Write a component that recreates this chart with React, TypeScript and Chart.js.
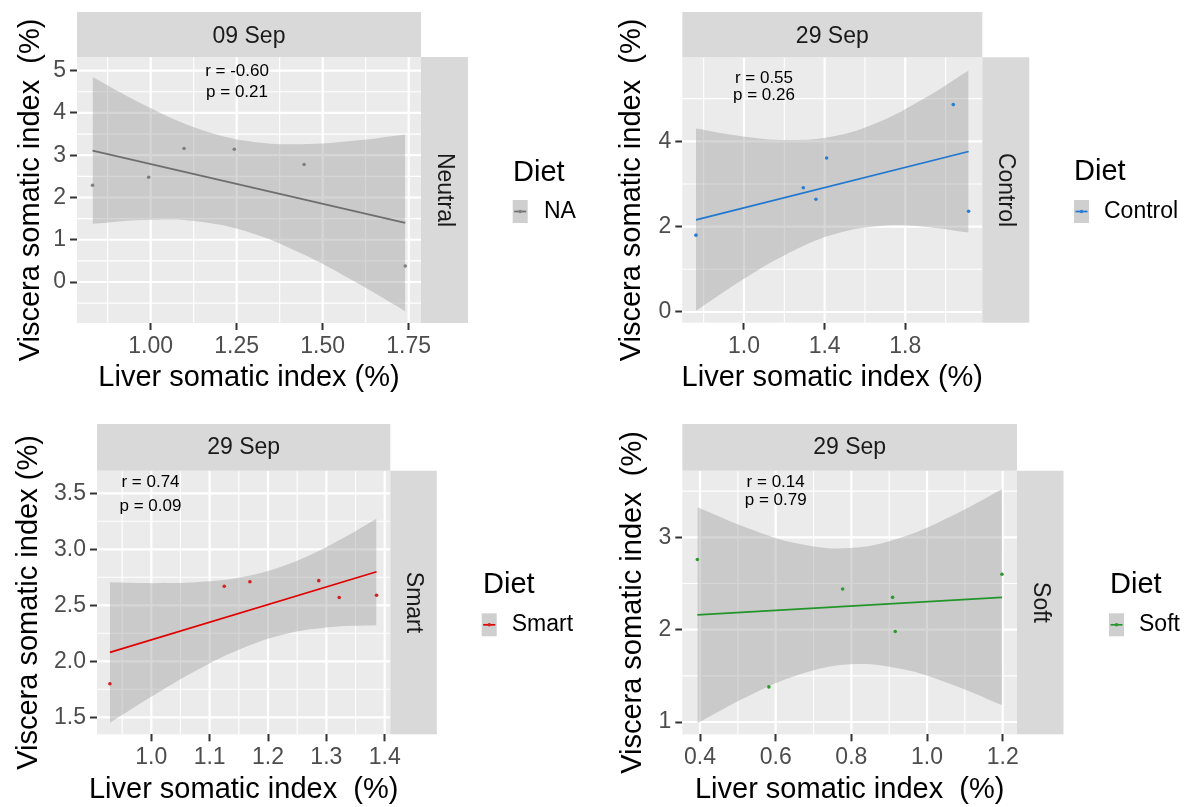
import React, { useEffect, useRef } from "react";
import { Chart, registerables } from "chart.js";

Chart.register(...registerables);

const FONT = "'Liberation Sans', Arial, Helvetica, sans-serif";

// ---------------- 09 Sep · Neutral (Diet NA) ----------------
const lsiNeutral = [0.831, 0.994, 1.097, 1.243, 1.446, 1.74];
const vsiNeutral = [2.29, 2.48, 3.16, 3.14, 2.78, 0.38];
const fitXNeutral = [0.831, 1.74];
const fitYNeutral = [3.11, 1.4];
const bandXNeutral = [0.831, 0.983, 1.134, 1.286, 1.437, 1.589, 1.74];
const bandHiNeutral = [4.85, 4.18, 3.64, 3.33, 3.26, 3.34, 3.49];
const bandLoNeutral = [1.38, 1.47, 1.44, 1.18, 0.68, 0.03, -0.69];
const corTextNeutral = ["r = -0.60", "p = 0.21"];
const corXNeutral = 1.251;
const corYNeutral = [4.976, 4.479];
const xTicksNeutral = [1.0, 1.25, 1.5, 1.75];
const xLabelsNeutral = ["1.00", "1.25", "1.50", "1.75"];
const xMinorNeutral = [0.875, 1.125, 1.375, 1.625];
const yTicksNeutral = [0, 1, 2, 3, 4, 5];
const yLabelsNeutral = ["0", "1", "2", "3", "4", "5"];
const yMinorNeutral = [-0.5, 0.5, 1.5, 2.5, 3.5, 4.5];

// ---------------- 29 Sep · Control ----------------
const lsiControl = [0.762, 1.294, 1.357, 1.41, 2.038, 2.114];
const vsiControl = [1.8, 2.91, 2.64, 3.61, 4.86, 2.36];
const fitXControl = [0.762, 2.114];
const fitYControl = [2.16, 3.76];
const bandXControl = [0.762, 0.987, 1.213, 1.438, 1.663, 1.889, 2.114];
const bandHiControl = [4.3, 4.12, 4.03, 4.11, 4.44, 4.99, 5.66];
const bandLoControl = [0.03, 0.74, 1.36, 1.81, 2.01, 2.0, 1.86];
const corTextControl = ["r = 0.55", "p = 0.26"];
const corXControl = 1.099;
const corYControl = [5.467, 5.066];
const xTicksControl = [1.0, 1.4, 1.8];
const xLabelsControl = ["1.0", "1.4", "1.8"];
const xMinorControl = [0.8, 1.2, 1.6, 2.0];
const yTicksControl = [0, 2, 4];
const yLabelsControl = ["0", "2", "4"];
const yMinorControl = [1, 3, 5];

// ---------------- 29 Sep · Smart ----------------
const lsiSmart = [0.929, 1.125, 1.169, 1.287, 1.322, 1.386];
const vsiSmart = [1.8, 2.67, 2.71, 2.72, 2.57, 2.59];
const fitXSmart = [0.929, 1.386];
const fitYSmart = [2.08, 2.8];
const bandXSmart = [0.929, 1.005, 1.081, 1.158, 1.234, 1.31, 1.386];
const bandHiSmart = [2.705, 2.697, 2.707, 2.754, 2.866, 3.048, 3.273];
const bandLoSmart = [1.451, 1.699, 1.929, 2.121, 2.248, 2.306, 2.321];
const corTextSmart = ["r = 0.74", "p = 0.09"];
const corXSmart = 0.9986;
const corYSmart = [3.595, 3.387];
const xTicksSmart = [1.0, 1.1, 1.2, 1.3, 1.4];
const xLabelsSmart = ["1.0", "1.1", "1.2", "1.3", "1.4"];
const xMinorSmart = [0.95, 1.05, 1.15, 1.25, 1.35];
const yTicksSmart = [1.5, 2.0, 2.5, 3.0, 3.5];
const yLabelsSmart = ["1.5", "2.0", "2.5", "3.0", "3.5"];
const yMinorSmart = [1.75, 2.25, 2.75, 3.25];

// ---------------- 29 Sep · Soft ----------------
const lsiSoft = [0.393, 0.582, 0.777, 0.909, 0.916, 1.198];
const vsiSoft = [2.76, 1.38, 2.44, 2.35, 1.98, 2.6];
const fitXSoft = [0.393, 1.198];
const fitYSoft = [2.16, 2.35];
const bandXSoft = [0.393, 0.527, 0.661, 0.796, 0.93, 1.064, 1.198];
const bandHiSoft = [3.325, 3.099, 2.931, 2.884, 2.996, 3.228, 3.52];
const bandLoSoft = [0.987, 1.279, 1.511, 1.625, 1.577, 1.41, 1.184];
const corTextSoft = ["r = 0.14", "p = 0.79"];
const corXSoft = 0.6;
const corYSoft = [3.591, 3.396];
const xTicksSoft = [0.4, 0.6, 0.8, 1.0, 1.2];
const xLabelsSoft = ["0.4", "0.6", "0.8", "1.0", "1.2"];
const xMinorSoft = [0.5, 0.7, 0.9, 1.1];
const yTicksSoft = [1, 2, 3];
const yLabelsSoft = ["1", "2", "3"];
const yMinorSoft = [1.5, 2.5, 3.5];

type Panel = any;

const panels: Panel[] = [
  {
    left: 0, top: 0, w: 596, h: 403,
    area: { l: 77, r: 421, t: 57, b: 323 },
    stripTop: 12, stripW: 47, stripDy: 2,
    xMin: 0.7858, xMax: 1.7858, yMin: -0.97, yMax: 5.324,
    lsi: lsiNeutral, vsi: vsiNeutral, fitX: fitXNeutral, fitY: fitYNeutral,
    bandX: bandXNeutral, bandHi: bandHiNeutral, bandLo: bandLoNeutral,
    corText: corTextNeutral, corX: corXNeutral, corY: corYNeutral,
    xTicks: xTicksNeutral, xLabels: xLabelsNeutral, xMinor: xMinorNeutral,
    yTicks: yTicksNeutral, yLabels: yLabelsNeutral, yMinor: yMinorNeutral,
    date: "09 Sep", diet: "Neutral", legendLabel: "NA",
    pointColor: "#7F7F7F", lineColor: "#6E6E6E",
    yTitle: "Viscera somatic index  (%)", xTitle: "Liver somatic index (%)",
    yTitleX: 31, xTitleY: 377.5,
    legend: { titleX: 513, titleY: 173, keyX: 512.7, keyY: 200, labelX: 544, labelY: 212 },
  },
  {
    left: 596, top: 0, w: 596, h: 403,
    area: { l: 86.3, r: 386.3, t: 57.3, b: 322.7 },
    stripTop: 12, stripW: 47, stripDy: 2,
    xMin: 0.694, xMax: 2.182, yMin: -0.251, yMax: 5.968,
    lsi: lsiControl, vsi: vsiControl, fitX: fitXControl, fitY: fitYControl,
    bandX: bandXControl, bandHi: bandHiControl, bandLo: bandLoControl,
    corText: corTextControl, corX: corXControl, corY: corYControl,
    xTicks: xTicksControl, xLabels: xLabelsControl, xMinor: xMinorControl,
    yTicks: yTicksControl, yLabels: yLabelsControl, yMinor: yMinorControl,
    date: "29 Sep", diet: "Control", legendLabel: "Control",
    pointColor: "#2A7FD4", lineColor: "#1F77D0",
    yTitle: "Viscera somatic index  (%)", xTitle: "Liver somatic index (%)",
    yTitleX: 36, xTitleY: 377.5,
    legend: { titleX: 478, titleY: 172, keyX: 478, keyY: 200, labelX: 508, labelY: 212 },
  },
  {
    left: 0, top: 403, w: 596, h: 404,
    area: { l: 97, r: 390.3, t: 67.7, b: 331.3 },
    stripTop: 21, stripW: 46.5, stripDy: 0,
    xMin: 0.9069, xMax: 1.4096, yMin: 1.348, yMax: 3.702,
    lsi: lsiSmart, vsi: vsiSmart, fitX: fitXSmart, fitY: fitYSmart,
    bandX: bandXSmart, bandHi: bandHiSmart, bandLo: bandLoSmart,
    corText: corTextSmart, corX: corXSmart, corY: corYSmart,
    xTicks: xTicksSmart, xLabels: xLabelsSmart, xMinor: xMinorSmart,
    yTicks: yTicksSmart, yLabels: yLabelsSmart, yMinor: yMinorSmart,
    date: "29 Sep", diet: "Smart", legendLabel: "Smart",
    pointColor: "#D42020", lineColor: "#E00000",
    yTitle: "Viscera somatic index (%)", xTitle: "Liver somatic index  (%)",
    yTitleX: 29, xTitleY: 387,
    legend: { titleX: 483, titleY: 181.7, keyX: 481.7, keyY: 210.3, labelX: 511.7, labelY: 222 },
  },
  {
    left: 596, top: 403, w: 596, h: 404,
    area: { l: 86.3, r: 421, t: 67.7, b: 331.3 },
    stripTop: 21, stripW: 46.5, stripDy: 0,
    xMin: 0.3532, xMax: 1.2378, yMin: 0.867, yMax: 3.721,
    lsi: lsiSoft, vsi: vsiSoft, fitX: fitXSoft, fitY: fitYSoft,
    bandX: bandXSoft, bandHi: bandHiSoft, bandLo: bandLoSoft,
    corText: corTextSoft, corX: corXSoft, corY: corYSoft,
    xTicks: xTicksSoft, xLabels: xLabelsSoft, xMinor: xMinorSoft,
    yTicks: yTicksSoft, yLabels: yLabelsSoft, yMinor: yMinorSoft,
    date: "29 Sep", diet: "Soft", legendLabel: "Soft",
    pointColor: "#2E9A2E", lineColor: "#22962A",
    yTitle: "Viscera somatic index  (%)", xTitle: "Liver somatic index  (%)",
    yTitleX: 36.5, xTitleY: 386.7,
    legend: { titleX: 514, titleY: 181.5, keyX: 513, keyY: 210.3, labelX: 543, labelY: 222 },
  },
];

const pts = (xs: number[], ys: number[]) => xs.map((x, i) => ({ x, y: ys[i] }));

function buildConfig(p: Panel): any {
  const a = p.area;
  const decor = {
    id: "facetDecor",
    beforeDraw(chart: any) {
      const { ctx, chartArea: ca, scales } = chart;
      const xs = scales.x;
      const ys = scales.y;
      ctx.save();
      ctx.fillStyle = "#EBEBEB";
      ctx.fillRect(ca.left, ca.top, ca.right - ca.left, ca.bottom - ca.top);
      ctx.strokeStyle = "#FFFFFF";
      const vline = (v: number, lw: number) => {
        const px = xs.getPixelForValue(v);
        ctx.lineWidth = lw;
        ctx.beginPath();
        ctx.moveTo(px, ca.top);
        ctx.lineTo(px, ca.bottom);
        ctx.stroke();
      };
      const hline = (v: number, lw: number) => {
        const py = ys.getPixelForValue(v);
        ctx.lineWidth = lw;
        ctx.beginPath();
        ctx.moveTo(ca.left, py);
        ctx.lineTo(ca.right, py);
        ctx.stroke();
      };
      p.xMinor.forEach((v: number) => vline(v, 1.1));
      p.yMinor.forEach((v: number) => hline(v, 1.1));
      p.xTicks.forEach((v: number) => vline(v, 2.2));
      p.yTicks.forEach((v: number) => hline(v, 2.2));

      // strips
      ctx.fillStyle = "#D9D9D9";
      ctx.fillRect(ca.left, p.stripTop, ca.right - ca.left, ca.top - p.stripTop);
      ctx.fillRect(ca.right, ca.top, p.stripW, ca.bottom - ca.top);
      ctx.fillStyle = "#1A1A1A";
      ctx.font = `23px ${FONT}`;
      ctx.textAlign = "center";
      ctx.textBaseline = "middle";
      ctx.fillText(p.date, (ca.left + ca.right) / 2, (p.stripTop + ca.top) / 2 + p.stripDy);
      ctx.save();
      ctx.translate(ca.right + p.stripW / 2, (ca.top + ca.bottom) / 2);
      ctx.rotate(Math.PI / 2);
      ctx.fillText(p.diet, 0, 0);
      ctx.restore();
      ctx.restore();
    },
    afterDraw(chart: any) {
      const { ctx, chartArea: ca, scales } = chart;
      const xs = scales.x;
      const ys = scales.y;
      ctx.save();
      ctx.textAlign = "center";
      ctx.textBaseline = "middle";
      ctx.fillStyle = "#000000";
      ctx.font = `17px ${FONT}`;
      const cx = xs.getPixelForValue(p.corX);
      p.corText.forEach((t: string, i: number) => {
        ctx.fillText(t, cx, ys.getPixelForValue(p.corY[i]));
      });

      // axis titles
      ctx.font = `29px ${FONT}`;
      ctx.fillText(p.xTitle, (ca.left + ca.right) / 2, p.xTitleY);
      ctx.save();
      ctx.translate(p.yTitleX, (ca.top + ca.bottom) / 2);
      ctx.rotate(-Math.PI / 2);
      ctx.fillText(p.yTitle, 0, 0);
      ctx.restore();

      // legend
      const lg = p.legend;
      ctx.textAlign = "left";
      ctx.font = `29px ${FONT}`;
      ctx.fillText("Diet", lg.titleX, lg.titleY);
      const kw = 15;
      const kh = 23;
      ctx.fillStyle = "#CFCFCF";
      ctx.fillRect(lg.keyX, lg.keyY, kw, kh);
      ctx.strokeStyle = p.lineColor;
      ctx.lineWidth = 1.7;
      ctx.beginPath();
      ctx.moveTo(lg.keyX + 1.5, lg.keyY + kh / 2);
      ctx.lineTo(lg.keyX + kw - 1.5, lg.keyY + kh / 2);
      ctx.stroke();
      ctx.fillStyle = p.pointColor;
      ctx.beginPath();
      ctx.arc(lg.keyX + kw / 2, lg.keyY + kh / 2, 1.8, 0, Math.PI * 2);
      ctx.fill();
      ctx.fillStyle = "#000000";
      ctx.font = `23px ${FONT}`;
      ctx.fillText(p.legendLabel, lg.labelX, lg.labelY);
      ctx.restore();
    },
  };

  const tickFont = { family: FONT, size: 23 };
  return {
    type: "scatter",
    data: {
      datasets: [
        {
          type: "scatter",
          data: pts(p.lsi, p.vsi),
          pointRadius: 1.8,
          pointBorderWidth: 0,
          backgroundColor: p.pointColor,
          borderColor: p.pointColor,
          order: 0,
        },
        {
          type: "line",
          data: pts(p.fitX, p.fitY),
          borderColor: p.lineColor,
          borderWidth: 1.7,
          pointRadius: 0,
          fill: false,
          tension: 0,
          order: 1,
        },
        {
          type: "line",
          data: pts(p.bandX, p.bandHi),
          borderColor: "rgba(0,0,0,0)",
          borderWidth: 0,
          pointRadius: 0,
          fill: false,
          tension: 0.4,
          order: 2,
        },
        {
          type: "line",
          data: pts(p.bandX, p.bandLo),
          borderColor: "rgba(0,0,0,0)",
          borderWidth: 0,
          pointRadius: 0,
          fill: 2,
          backgroundColor: "rgba(153,153,153,0.4)",
          tension: 0.4,
          order: 3,
        },
      ],
    },
    options: {
      responsive: false,
      animation: false,
      devicePixelRatio: 1,
      events: [],
      layout: { padding: { left: 0, top: a.t, right: p.w - a.r, bottom: 0 } },
      plugins: {
        legend: { display: false },
        tooltip: { enabled: false },
        title: { display: false },
      },
      scales: {
        x: {
          type: "linear",
          position: "bottom",
          min: p.xMin,
          max: p.xMax,
          afterBuildTicks: (s: any) => {
            s.ticks = p.xTicks.map((v: number) => ({ value: v }));
          },
          afterFit: (s: any) => {
            s.height = p.h - a.b;
          },
          ticks: {
            callback: (_v: any, i: number) => p.xLabels[i],
            font: tickFont,
            color: "#4D4D4D",
            padding: 3,
            autoSkip: false,
            maxRotation: 0,
            minRotation: 0,
          },
          grid: {
            drawOnChartArea: false,
            drawTicks: true,
            tickLength: 7,
            tickWidth: 2,
            tickColor: "#333333",
          },
          border: { display: false },
          title: { display: false },
        },
        y: {
          type: "linear",
          position: "left",
          min: p.yMin,
          max: p.yMax,
          afterBuildTicks: (s: any) => {
            s.ticks = p.yTicks.map((v: number) => ({ value: v }));
          },
          afterFit: (s: any) => {
            s.width = a.l;
          },
          ticks: {
            callback: (_v: any, i: number) => p.yLabels[i],
            font: tickFont,
            color: "#4D4D4D",
            padding: 4,
            autoSkip: false,
          },
          grid: {
            drawOnChartArea: false,
            drawTicks: true,
            tickLength: 7,
            tickWidth: 2,
            tickColor: "#333333",
          },
          border: { display: false },
          title: { display: false },
        },
      },
    },
    plugins: [decor],
  };
}

function FacetPanel({ spec }: { spec: Panel }) {
  const ref = useRef<HTMLCanvasElement>(null);
  useEffect(() => {
    if (!ref.current) return;
    const chart = new Chart(ref.current, buildConfig(spec));
    return () => chart.destroy();
  }, [spec]);
  return (
    <canvas
      ref={ref}
      width={spec.w}
      height={spec.h}
      style={{ position: "absolute", left: spec.left, top: spec.top, width: spec.w, height: spec.h }}
    />
  );
}

export default function App() {
  return (
    <div
      style={{
        position: "absolute",
        left: 0,
        top: 0,
        width: 1192,
        height: 807,
        background: "#FFFFFF",
        overflow: "hidden",
      }}
    >
      {panels.map((p, i) => (
        <FacetPanel key={i} spec={p} />
      ))}
    </div>
  );
}
